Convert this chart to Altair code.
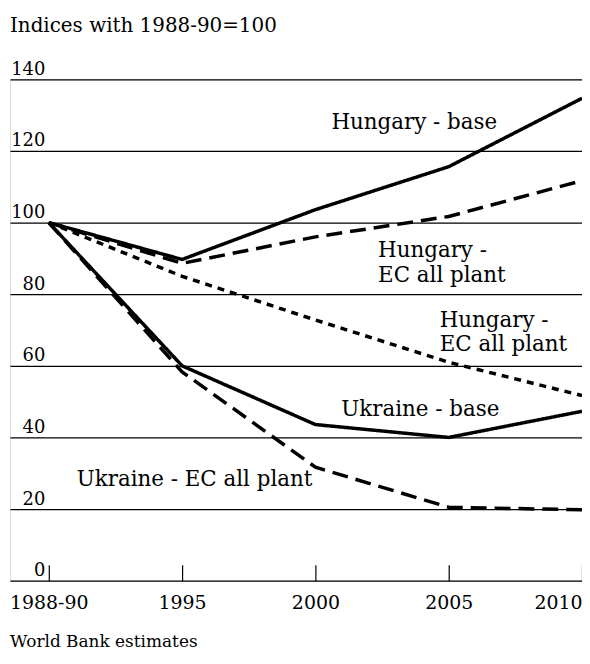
import altair as alt
import pandas as pd

years = [1990, 1995, 2000, 2005, 2010]
hu_base = [100, 89.7, 103.6, 115.6, 134.7]
hu_ec = [100, 88.6, 96.0, 101.7, 111.7]
hu_ec2 = [100, 85.0, 72.8, 61.0, 51.7]
ua_base = [100, 60.0, 43.6, 40.0, 47.3]
ua_ec = [100, 58.3, 31.7, 20.5, 19.8]

series_names = ["hu_base", "hu_ec", "hu_ec2", "ua_base", "ua_ec"]
series_vals = [hu_base, hu_ec, hu_ec2, ua_base, ua_ec]
dashes = [[1, 0], [16, 8], [7, 6], [1, 0], [16, 8]]

rows = []
for name, vals in zip(series_names, series_vals):
    for yr, v in zip(years, vals):
        rows.append({"series": name, "year": yr, "value": v})
df = pd.DataFrame(rows)

ann_text = ["Hungary - base", "Hungary -", "EC all plant", "Hungary -", "EC all plant",
            "Ukraine - base", "Ukraine - EC all plant"]
ann_x = [2000.6, 2002.35, 2002.35, 2004.66, 2004.66, 2000.97, 1991.05]
ann_y = [126.1, 90.3, 83.3, 70.8, 64.2, 46.1, 26.4]
ann = pd.DataFrame({"text": ann_text, "x": ann_x, "y": ann_y})

FONT = "DejaVu Serif"

xscale = alt.Scale(domain=[1988.545, 2010], nice=False, zero=False)
yscale = alt.Scale(domain=[0, 140], nice=False)

lines = alt.Chart(df).mark_line(color="black", strokeWidth=3.5).encode(
    x=alt.X("year:Q", scale=xscale, title=None,
            axis=alt.Axis(values=years, format="d",
                          labelExpr="datum.value == 1990 ? '1988-90' : datum.label",
                          tickSize=16, offset=-16, domain=False, grid=False,
                          tickColor="black", tickWidth=1.2, labelPadding=13,
                          labelFont=FONT, labelFontSize=19, labelColor="black")),
    y=alt.Y("value:Q", scale=yscale, title=None,
            axis=alt.Axis(values=[0, 20, 40, 60, 80, 100, 120, 140], grid=True,
                          gridColor="black", gridWidth=1.2, gridOpacity=1,
                          domain=False, ticks=False, tickSize=0,
                          labelAlign="right", labelPadding=-35, labelBaseline="alphabetic",
                          labelOffset=-5, labelFont=FONT, labelFontSize=18, labelColor="black")),
    strokeDash=alt.StrokeDash("series:N", scale=alt.Scale(domain=series_names, range=dashes),
                              legend=None),
    detail="series:N",
)

labels = alt.Chart(ann).mark_text(align="left", baseline="alphabetic", font=FONT,
                                  fontSize=21.5, color="black").encode(
    x=alt.X("x:Q", scale=xscale), y=alt.Y("y:Q", scale=yscale), text="text:N")

title_df = pd.DataFrame({"t": ["Indices with 1988-90=100"]})
title = alt.Chart(title_df).mark_text(align="left", baseline="alphabetic", font=FONT,
                                      fontSize=20, color="black").encode(
    x=alt.value(0), y=alt.value(-48), text="t:N")

src_df = pd.DataFrame({"t": ["World Bank estimates"]})
src = alt.Chart(src_df).mark_text(align="left", baseline="alphabetic", font=FONT,
                                  fontSize=17, color="black").encode(
    x=alt.value(0), y=alt.value(571), text="t:N")

chart = alt.layer(lines, labels, title, src).properties(
    width=575, height=504,
    autosize=alt.AutoSizeParams(type="none"),
    padding={"left": 2, "top": 70, "right": 0, "bottom": 70},
).configure_view(stroke=None).configure(background="white")

chart.save("out.html", embed_options={"renderer": "svg", "actions": False})
